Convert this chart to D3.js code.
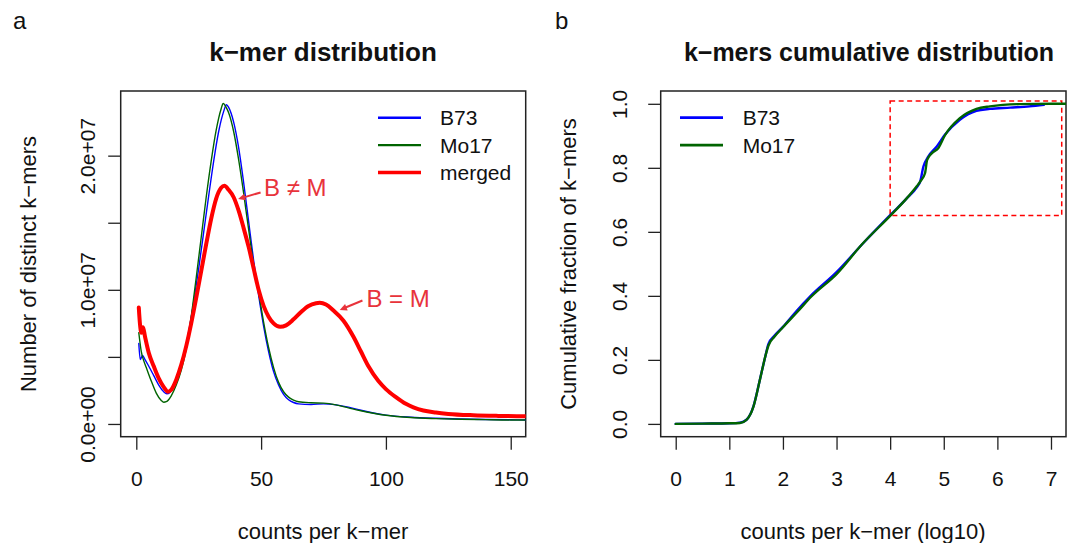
<!DOCTYPE html>
<html>
<head>
<meta charset="utf-8">
<script src="https://cdn.jsdelivr.net/npm/d3@7"></script>
<style>
  body { margin: 0; background: #fff; }
  svg text { font-family: "Liberation Sans", Arial, Helvetica, sans-serif; }
</style>
</head>
<body>
<div id="chart"></div>
<script>
// ---- panel a : k-mer distribution (number of distinct k-mers, in millions) ----
const b73Count = [1, 1.6, 2.5, 3.5, 5, 7, 9, 11, 12.2, 13.5, 15, 17, 19, 21, 23, 25, 27, 29, 31, 33, 35, 36.1, 37, 39, 41, 43, 45, 47, 49, 51, 53, 55, 57, 59, 61, 63, 65, 70, 75, 80, 85, 90, 95, 100, 110, 120, 130, 140, 150, 156];
const b73Kmers = [6.0, 4.8, 5.1, 4.8, 4.3, 3.6, 2.9, 2.4, 2.25, 2.35, 2.9, 3.8, 5.1, 6.9, 9.1, 11.6, 14.3, 17.0, 19.6, 21.8, 23.3, 23.8, 23.6, 22.5, 20.6, 18.0, 15.1, 12.2, 9.6, 7.3, 5.4, 3.9, 2.9, 2.2, 1.8, 1.6, 1.5, 1.45, 1.5, 1.42, 1.25, 1.02, 0.82, 0.66, 0.5, 0.42, 0.37, 0.33, 0.31, 0.3];

const mo17Count = [1, 2, 3, 4, 6, 8, 10, 11, 12, 14, 16, 18, 20, 22, 24, 26, 28, 30, 32, 34, 34.8, 36, 37, 39, 41, 43, 45, 47, 49, 51, 53, 55, 57, 59, 61, 63, 65, 70, 75, 80, 85, 90, 95, 100, 110, 120, 130, 140, 150, 156];
const mo17Kmers = [6.8, 5.4, 4.7, 4.2, 3.2, 2.3, 1.75, 1.62, 1.66, 2.1, 2.9, 4.0, 5.6, 8.0, 10.9, 13.9, 16.9, 19.6, 21.9, 23.5, 23.9, 23.6, 23.2, 21.8, 19.7, 17.2, 14.5, 11.9, 9.8, 7.6, 5.7, 4.2, 3.1, 2.4, 2.0, 1.78, 1.66, 1.58, 1.55, 1.42, 1.2, 0.98, 0.8, 0.65, 0.48, 0.4, 0.35, 0.32, 0.3, 0.3];

const mergedCount = [1, 1.5, 2, 2.7, 3.5, 5, 7, 9, 11, 12.7, 14, 16, 18, 20, 22, 24, 26, 28, 30, 32, 34, 35.3, 37, 39, 41, 43, 45, 47, 49, 51, 53, 55, 57.6, 60, 63, 66, 69, 72, 73.5, 76, 79, 83, 87, 90, 93, 97, 100, 104, 108, 111, 115, 120, 125, 135, 145, 156];
const mergedKmers = [8.68, 7.4, 6.8, 7.2, 6.5, 5.3, 4.3, 3.4, 2.75, 2.4, 2.55, 3.3, 4.4, 5.8, 7.5, 9.4, 11.4, 13.4, 15.3, 16.8, 17.6, 17.75, 17.45, 16.9, 15.9, 14.6, 13.2, 11.6, 10.0, 8.8, 8.0, 7.5, 7.24, 7.35, 7.8, 8.35, 8.8, 9.0, 9.03, 8.9, 8.45, 7.7, 6.5, 5.4, 4.3, 3.2, 2.6, 2.0, 1.5, 1.24, 1.0, 0.85, 0.75, 0.65, 0.6, 0.57];

const countTicks = [0, 50, 100, 150];
const kmerTicks = [0, 5, 10, 15, 20];
const kmerTickLabels = ["0.0e+00", "", "1.0e+07", "", "2.0e+07"];

// annotations (data units)
const annotText = ["B \u2260 M", "B = M"];
const annotX = [51.2, 92.2];
const annotY = [17.6, 9.35];
const arrowFrom = [[49.8, 17.26], [90.6, 9.2]];
const arrowTo = [[40.8, 16.77], [81.5, 8.5]];

// ---- panel b : cumulative distribution ----
const b73Log = [0, 0.5, 1.0, 1.2, 1.32, 1.45, 1.57, 1.67, 1.73, 1.84, 2.0, 2.25, 2.5, 3.0, 3.5, 4.0, 4.3, 4.5, 4.56, 4.62, 4.71, 4.87, 5.02, 5.3, 5.61, 5.86, 6.24, 6.6, 6.87];
const b73Cum = [0, 0.001, 0.002, 0.004, 0.013, 0.055, 0.138, 0.21, 0.25, 0.275, 0.303, 0.352, 0.397, 0.474, 0.565, 0.652, 0.703, 0.74, 0.757, 0.804, 0.835, 0.867, 0.903, 0.95, 0.978, 0.984, 0.988, 0.992, 0.997];

const mo17Log = [0, 0.5, 1.0, 1.2, 1.32, 1.45, 1.57, 1.67, 1.73, 1.84, 2.0, 2.28, 2.53, 3.0, 3.48, 4.0, 4.3, 4.5, 4.56, 4.65, 4.69, 4.78, 4.9, 5.02, 5.3, 5.61, 5.86, 6.42, 7.0, 7.3];
const mo17Cum = [0, 0.001, 0.002, 0.003, 0.0125, 0.054, 0.1375, 0.21, 0.245, 0.272, 0.302, 0.352, 0.398, 0.468, 0.562, 0.65, 0.703, 0.743, 0.757, 0.783, 0.825, 0.846, 0.862, 0.901, 0.955, 0.984, 0.992, 0.999, 1.0, 1.0];

const logTicks = [0, 1, 2, 3, 4, 5, 6, 7];
const cumTicks = [0, 0.2, 0.4, 0.6, 0.8, 1.0];
const zoomBoxX = [4, 7.2];
const zoomBoxY = [0.651, 1.009];

const BLUE = "#0000ff", GREEN = "#006400", RED = "#ff0000", NOTE = "#e8333b", INK = "#111";

const svg = d3.select("#chart").append("svg")
  .attr("width", 1072).attr("height", 543);

// scales, ranges are the plot boxes of the two panels
const xL = d3.scaleLinear().domain([-6.25, 156]).range([120.7, 525.7]);
const yL = d3.scaleLinear().domain([-0.95, 24.82]).range([436.7, 91]);
const xR = d3.scaleLinear().domain([-0.28, 7.28]).range([660.7, 1066]);
const yR = d3.scaleLinear().domain([-0.04, 1.04]).range([436.7, 91]);

function drawAxes(x, y, xt, xlab, yt, ylab, yLabOffset) {
  const gx = svg.append("g")
    .attr("transform", "translate(0," + y.range()[0] + ")")
    .call(d3.axisBottom(x).tickValues(xt).tickFormat((d, i) => xlab[i]).tickSize(13).tickSizeOuter(0));
  gx.select(".domain").remove();
  gx.selectAll("line").attr("stroke", "#222").attr("stroke-width", 1.3);
  gx.selectAll("text").attr("y", 49).attr("dy", 0)
    .attr("font-size", "21px").attr("fill", INK);

  const gy = svg.append("g")
    .attr("transform", "translate(" + x.range()[0] + ",0)")
    .call(d3.axisLeft(y).tickValues(yt).tickFormat((d, i) => ylab[i]).tickSize(12.5).tickSizeOuter(0));
  gy.select(".domain").remove();
  gy.selectAll("line").attr("stroke", "#222").attr("stroke-width", 1.3);
  gy.selectAll("text").attr("x", 0).attr("dy", 0)
    .attr("transform", "translate(" + (-yLabOffset) + ",0) rotate(-90)")
    .attr("text-anchor", "middle").attr("font-size", "21px").attr("fill", INK);

  // frame
  svg.append("rect")
    .attr("x", x.range()[0]).attr("y", y.range()[1])
    .attr("width", x.range()[1] - x.range()[0])
    .attr("height", y.range()[0] - y.range()[1])
    .attr("fill", "none").attr("stroke", "#222").attr("stroke-width", 1.5);
}

function clipFor(id, x, y) {
  svg.append("clipPath").attr("id", id).append("rect")
    .attr("x", x.range()[0]).attr("y", y.range()[1])
    .attr("width", x.range()[1] - x.range()[0])
    .attr("height", y.range()[0] - y.range()[1]);
}

function drawCurve(xs, ys, x, y, color, width, clip) {
  const pts = xs.map((d, i) => [d, ys[i]]);
  svg.append("path")
    .datum(pts)
    .attr("clip-path", "url(#" + clip + ")")
    .attr("fill", "none").attr("stroke", color).attr("stroke-width", width)
    .attr("stroke-linejoin", "round").attr("stroke-linecap", "round")
    .attr("d", d3.line().x(d => x(d[0])).y(d => y(d[1])).curve(d3.curveMonotoneX));
}

function legend(items, x0, y0, textX) {
  items.forEach((it, i) => {
    const yy = y0 + i * 27.4;
    svg.append("line").attr("x1", x0).attr("x2", x0 + 43).attr("y1", yy).attr("y2", yy)
      .attr("stroke", it.color).attr("stroke-width", it.w);
    svg.append("text").attr("x", textX).attr("y", yy + 7.5)
      .attr("font-size", "21px").attr("fill", INK).text(it.name);
  });
}

// ---------- panel a ----------
clipFor("clipL", xL, yL);
drawAxes(xL, yL, countTicks, countTicks.map(String), kmerTicks, kmerTickLabels, 25.7);
drawCurve(b73Count, b73Kmers, xL, yL, BLUE, 1.4, "clipL");
drawCurve(mo17Count, mo17Kmers, xL, yL, GREEN, 1.4, "clipL");
drawCurve(mergedCount, mergedKmers, xL, yL, RED, 4, "clipL");

annotText.forEach((t, i) => {
  svg.append("text").attr("x", xL(annotX[i])).attr("y", yL(annotY[i]) + 8.5)
    .attr("font-size", "24px").attr("fill", NOTE).text(t);
  const x1 = xL(arrowFrom[i][0]), y1 = yL(arrowFrom[i][1]);
  const x2 = xL(arrowTo[i][0]), y2 = yL(arrowTo[i][1]);
  const a = Math.atan2(y2 - y1, x2 - x1), h = 8;
  svg.append("line").attr("x1", x1).attr("y1", y1)
    .attr("x2", x2 - 5 * Math.cos(a)).attr("y2", y2 - 5 * Math.sin(a))
    .attr("stroke", NOTE).attr("stroke-width", 2);
  svg.append("path")
    .attr("d", "M" + x2 + "," + y2 +
      "L" + (x2 - h * Math.cos(a - 0.45)) + "," + (y2 - h * Math.sin(a - 0.45)) +
      "L" + (x2 - h * Math.cos(a + 0.45)) + "," + (y2 - h * Math.sin(a + 0.45)) + "Z")
    .attr("fill", NOTE);
});

legend([{ name: "B73", color: BLUE, w: 2.4 }, { name: "Mo17", color: GREEN, w: 2.4 }, { name: "merged", color: RED, w: 3.4 }],
  378, 117.7, 440);

svg.append("text").attr("x", 323).attr("y", 61).attr("text-anchor", "middle").attr("fill", INK)
  .attr("font-size", "26px").attr("font-weight", "bold").text("k\u2212mer distribution");
svg.append("text").attr("x", 323).attr("y", 539).attr("text-anchor", "middle").attr("fill", INK)
  .attr("font-size", "22px").text("counts per k\u2212mer");
svg.append("text").attr("transform", "translate(36,264) rotate(-90)").attr("text-anchor", "middle").attr("fill", INK)
  .attr("font-size", "22px").text("Number of distinct k\u2212mers");
svg.append("text").attr("x", 13).attr("y", 29).attr("font-size", "24px").attr("fill", INK).text("a");

// ---------- panel b ----------
clipFor("clipR", xR, yR);
drawAxes(xR, yR, logTicks, logTicks.map(String), cumTicks, cumTicks.map(d => d.toFixed(1)), 33.7);

svg.append("rect")
  .attr("x", xR(zoomBoxX[0])).attr("y", yR(zoomBoxY[1]))
  .attr("width", xR(zoomBoxX[1]) - xR(zoomBoxX[0]))
  .attr("height", yR(zoomBoxY[0]) - yR(zoomBoxY[1]))
  .attr("fill", "none").attr("stroke", RED).attr("stroke-width", 1.5)
  .attr("stroke-dasharray", "5,3.5");

drawCurve(b73Log, b73Cum, xR, yR, BLUE, 2.4, "clipR");
drawCurve(mo17Log, mo17Cum, xR, yR, GREEN, 2.4, "clipR");

legend([{ name: "B73", color: BLUE, w: 2.8 }, { name: "Mo17", color: GREEN, w: 2.8 }], 680, 117.7, 742.7);

svg.append("text").attr("x", 869).attr("y", 61).attr("text-anchor", "middle").attr("fill", INK)
  .attr("font-size", "25px").attr("font-weight", "bold").text("k\u2212mers cumulative distribution");
svg.append("text").attr("x", 863).attr("y", 539).attr("text-anchor", "middle").attr("fill", INK)
  .attr("font-size", "22px").text("counts per k\u2212mer (log10)");
svg.append("text").attr("transform", "translate(576,264) rotate(-90)").attr("text-anchor", "middle").attr("fill", INK)
  .attr("font-size", "22px").text("Cumulative fraction of k\u2212mers");
svg.append("text").attr("x", 555).attr("y", 29).attr("font-size", "24px").attr("fill", INK).text("b");
</script>
</body>
</html>
